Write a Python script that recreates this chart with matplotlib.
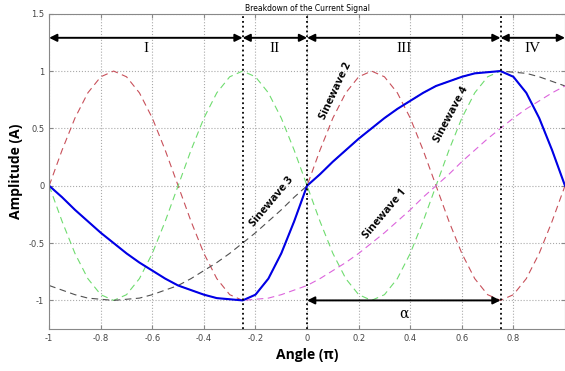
import numpy as np
import matplotlib.pyplot as plt

# angle axis, in units of pi
angle = [round(-1 + 0.05 * i, 2) for i in range(41)]

# sinewave values at each angle
sinewave_1 = [0, -0.10, -0.21, -0.31, -0.41, -0.5, -0.59, -0.67, -0.74, -0.81,
              -0.87, -0.91, -0.95, -0.98, -0.99, -1, -0.99, -0.98, -0.95, -0.91,
              -0.87, -0.81, -0.74, -0.67, -0.59, -0.5, -0.41, -0.31, -0.21, -0.10,
              0, 0.10, 0.21, 0.31, 0.41, 0.5, 0.59, 0.67, 0.74, 0.81, 0.87]
sinewave_2 = [0, 0.31, 0.59, 0.81, 0.95, 1, 0.95, 0.81, 0.59, 0.31,
              0, -0.31, -0.59, -0.81, -0.95, -1, -0.95, -0.81, -0.59, -0.31,
              0, 0.31, 0.59, 0.81, 0.95, 1, 0.95, 0.81, 0.59, 0.31,
              0, -0.31, -0.59, -0.81, -0.95, -1, -0.95, -0.81, -0.59, -0.31, 0]
sinewave_3 = [-0.87, -0.91, -0.95, -0.98, -0.99, -1, -0.99, -0.98, -0.95, -0.91,
              -0.87, -0.81, -0.74, -0.67, -0.59, -0.5, -0.41, -0.31, -0.21, -0.10,
              0, 0.10, 0.21, 0.31, 0.41, 0.5, 0.59, 0.67, 0.74, 0.81,
              0.87, 0.91, 0.95, 0.98, 0.99, 1, 0.99, 0.98, 0.95, 0.91, 0.87]
sinewave_4 = [-v for v in sinewave_2]

# region boundaries and which sinewave the current follows in each
boundaries = [-1, -0.25, 0, 0.75, 1]
regions = ['I', 'II', 'III', 'IV']
followed = [sinewave_1, sinewave_2, sinewave_3, sinewave_4]

x = np.array(angle)
current_x, current_y = [], []
for k in range(4):
    m = (x >= boundaries[k] - 1e-9) & (x <= boundaries[k + 1] + 1e-9)
    current_x += list(x[m])
    current_y += list(np.array(followed[k])[m])

fig = plt.figure(figsize=(5.65, 3.71), dpi=100)
ax = fig.add_axes([0.087, 0.113, 0.913, 0.85])

dash = dict(ls=(0, (6, 4)), lw=0.8)
ax.plot(angle, sinewave_2, color='#c8505a', **dash)
ax.plot(angle, sinewave_4, color='#6fdc6f', **dash)
ax.plot(angle, sinewave_3, color='#505050', **dash)
ax.plot(angle, sinewave_1, color='#dc64dc', **dash)
ax.plot(current_x, current_y, color='#0000e6', lw=1.5, solid_joinstyle='round')

for b in boundaries[1:-1]:
    ax.axvline(b, color='black', ls=':', lw=1.3)

arrow = dict(arrowstyle='<|-|>', color='black', lw=1.4, shrinkA=0, shrinkB=0,
             mutation_scale=11)
for k, name in enumerate(regions):
    ax.annotate('', xy=(boundaries[k], 1.29), xytext=(boundaries[k + 1], 1.29),
                arrowprops=arrow)
    ax.text((boundaries[k] + boundaries[k + 1]) / 2, 1.2, name, ha='center',
            va='center', family='Liberation Serif', fontsize=11)

ax.annotate('', xy=(0, -1), xytext=(0.75, -1), arrowprops=arrow)
ax.text(0.375, -1.12, 'α', ha='center', va='center', family='DejaVu Serif',
        fontsize=10)

lab = dict(family='Open Sans', fontweight='bold', fontsize=8,
           ha='center', va='center')
ax.text(0.11, 0.83, 'Sinewave 2', rotation=65, **lab)
ax.text(0.56, 0.62, 'Sinewave 4', rotation=62, **lab)
ax.text(-0.135, -0.14, 'Sinewave 3', rotation=50, **lab)
ax.text(0.30, -0.245, 'Sinewave 1', rotation=50, **lab)

ax.set_xlim(-1, 1)
ax.set_ylim(-1.25, 1.5)
ax.set_xticks([-1, -0.8, -0.6, -0.4, -0.2, 0, 0.2, 0.4, 0.6, 0.8])
ax.set_xticklabels(['-1', '-0.8', '-0.6', '-0.4', '-0.2', '0', '0.2', '0.4',
                    '0.6', '0.8'])
ax.set_yticks([-1, -0.5, 0, 0.5, 1, 1.5])
ax.set_yticklabels(['-1', '-0.5', '0', '0.5', '1', '1.5'])
ax.tick_params(direction='in', labelsize=6, labelcolor='#444444', color='#888888',
               top=True, right=True, length=3)
ax.grid(True, ls=':', color='#aaaaaa', lw=0.8)
for s in ax.spines.values():
    s.set_color('#888888')

ax.set_xlabel('Angle (π)', family='Open Sans', fontweight='bold', fontsize=10)
ax.set_ylabel('Amplitude (A)', family='Open Sans', fontweight='bold', fontsize=10)
ax.set_title('Breakdown of the Current Signal', fontsize=5.5, pad=2)

fig.savefig('out.png')
